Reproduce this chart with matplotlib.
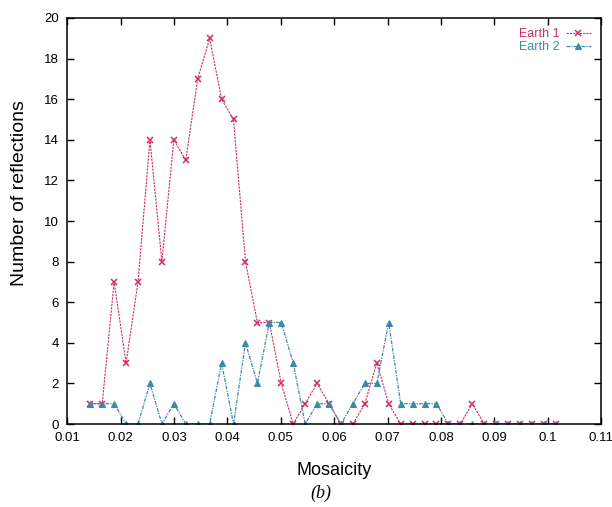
import matplotlib

matplotlib.use("Agg")
import matplotlib.pyplot as plt
import numpy as np

plt.rcParams["font.family"] = ["Liberation Sans", "DejaVu Sans"]

# bin centres of the mosaicity histogram
mosaicity = 0.0143 + 0.002237 * np.arange(40)

earth1 = [1, 1, 7, 3, 7, 14, 8, 14, 13, 17, 19, 16, 15, 8, 5, 5, 2, 0, 1, 2,
          1, 0, 0, 1, 3, 1, 0, 0, 0, 0, 0, 0, 1, 0, 0, 0, 0, 0, 0, 0]
earth2 = [1, 1, 1, 0, 0, 2, 0, 1, 0, 0, 0, 3, 0, 4, 2, 5, 5, 3, 0, 1,
          1, 0, 1, 2, 2, 5, 1, 1, 1, 1, 0, 0, 0, 0, 0, 0, 0, 0, 0, 0]

x_ticks = [0.01, 0.02, 0.03, 0.04, 0.05, 0.06, 0.07, 0.08, 0.09, 0.1, 0.11]
x_tick_labels = ["0.01", "0.02", "0.03", "0.04", "0.05", "0.06", "0.07",
                 "0.08", "0.09", "0.1", "0.11"]
y_ticks = list(range(0, 21, 2))

RED = "#d42a5c"
BLUE = "#3d8aa6"

fig = plt.figure(figsize=(6.12, 5.07), dpi=100)
ax = fig.add_axes([0.11, 0.1637, 0.872, 0.8008])

ax.plot(mosaicity, earth1, color=RED, lw=0.8, ls=(0, (2, 1)),
        marker="x", ms=4.5, mew=1.1, label="Earth 1")
ax.plot(mosaicity, earth2, color=BLUE, lw=0.9, ls=(0, (3, 1, 1, 1)),
        marker="^", ms=4.5, mew=0.8, label="Earth 2")

ax.set_xlim(0.01, 0.11)
ax.set_ylim(0, 20)
ax.set_xticks(x_ticks)
ax.set_xticklabels(x_tick_labels)
ax.set_yticks(y_ticks)
ax.tick_params(direction="in", top=True, right=True, length=5, width=1,
               labelsize=9.5, pad=6)
for s in ax.spines.values():
    s.set_linewidth(1.1)

ax.set_xlabel("Mosaicity", fontsize=13)
ax.xaxis.set_label_coords(0.5, -0.093)
ax.set_ylabel("Number of reflections", fontsize=14)
ax.yaxis.set_label_coords(-0.073, 0.57)

leg = ax.legend(loc="upper right", frameon=False, markerfirst=False,
                fontsize=9, handlelength=2.0, handletextpad=0.5,
                labelspacing=0.1, borderaxespad=0.4)
for t, c in zip(leg.get_texts(), [RED, BLUE]):
    t.set_color(c)

fig.text(0.525, 0.026, "(b)", fontsize=13, style="italic", va="center",
         family=["Liberation Serif", "DejaVu Serif"], ha="center")

fig.savefig("out.png", dpi=100)
